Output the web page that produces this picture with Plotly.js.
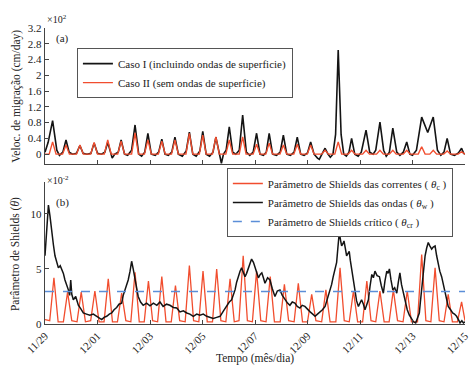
<!DOCTYPE html>
<html>
<head>
<meta charset="utf-8">
<script src="https://cdn.plot.ly/plotly-3.0.1.min.js"></script>
<style>html,body{margin:0;padding:0;background:#fff;}#chart{width:471px;height:368px;}</style>
</head>
<body>
<div id="chart"></div>
<script>
// ---- Data (time in days since 11/29) ----
var tickDays = [0, 2, 4, 6, 8, 10, 12, 14, 16];
var tickDates = ['11/29', '12/01', '12/03', '12/05', '12/07', '12/09', '12/11', '12/13', '12/15'];
var velTicks = [0, 0.4, 0.8, 1.2, 1.6, 2, 2.4, 2.8, 3.2];
var velTickText = ['0', '0.4', '0.8', '1.2', '1.6', '2', '2.4', '2.8', '3.2'];

// Panel (a): migration velocity (x10^2 cm/day)
var caseITime = [0,0.12,0.29,0.45,0.55,0.68,0.80,0.92,1.05,1.2,1.33,1.45,1.6,1.75,1.87,2.0,2.15,2.28,2.39,2.5,2.56,2.66,2.79,2.90,3.03,3.15,3.3,3.43,3.57,3.68,3.8,3.92,4.05,4.2,4.33,4.45,4.57,4.7,4.83,4.95,5.08,5.23,5.38,5.50,5.63,5.76,5.9,6.01,6.14,6.27,6.4,6.51,6.63,6.72,6.8,6.9,7.02,7.15,7.27,7.4,7.53,7.67,7.8,7.93,8.06,8.19,8.32,8.43,8.54,8.67,8.82,8.96,9.08,9.21,9.35,9.49,9.61,9.74,9.87,10.0,10.12,10.25,10.38,10.45,10.55,10.67,10.78,10.87,10.97,11.07,11.17,11.28,11.38,11.48,11.58,11.68,11.8,11.93,12.05,12.23,12.37,12.5,12.6,12.76,12.9,13.0,13.12,13.25,13.4,13.52,13.65,13.78,13.9,14.0,14.15,14.35,14.58,14.79,14.95,15.08,15.2,15.32,15.45,15.6,15.75,15.87,15.95,16.0];
var caseIVal = [0.05,0.3,0.85,0.1,-0.03,0.05,0.36,0.05,0.0,0.02,0.22,0.02,0.0,0.02,0.28,0.02,0.0,0.05,0.30,0.0,-0.1,0.0,0.05,0.36,0.0,-0.03,0.1,0.74,0.0,-0.05,0.05,0.53,0.0,-0.03,0.05,0.38,0.0,-0.03,0.05,0.43,0.0,-0.05,0.08,0.56,0.0,-0.05,0.08,0.58,0.0,-0.05,0.05,0.43,0.0,-0.23,0.0,0.1,0.69,0.05,0.0,0.1,0.99,0.05,-0.03,0.05,0.53,0.0,-0.03,0.05,0.53,0.0,-0.03,0.05,0.48,0.0,-0.03,0.05,0.43,0.0,-0.03,0.03,0.31,0.0,-0.1,-0.13,0.0,0.15,0.0,-0.08,0.0,0.5,2.64,0.5,0.0,-0.05,0.05,0.40,0.0,-0.05,0.05,0.61,0.05,0.0,0.1,0.81,0.1,-0.05,0.05,0.66,0.05,-0.03,0.05,0.31,0.0,-0.03,0.1,0.94,0.55,0.94,0.1,-0.03,0.05,0.40,0.0,-0.03,0.03,0.15,0.02,0.0];

var caseIITime = [0,0.16,0.29,0.42,0.67,0.80,0.93,1.20,1.33,1.46,1.74,1.87,2.00,2.26,2.39,2.52,2.77,2.90,3.03,3.30,3.43,3.56,3.79,3.92,4.05,4.32,4.45,4.58,4.82,4.95,5.08,5.37,5.50,5.63,5.88,6.01,6.14,6.38,6.51,6.64,6.89,7.02,7.15,7.40,7.53,7.66,7.93,8.06,8.19,8.41,8.54,8.67,8.95,9.08,9.21,9.48,9.61,9.74,9.99,10.12,10.25,10.54,10.67,10.80,11.04,11.17,11.30,11.55,11.68,11.81,12.10,12.23,12.36,12.63,12.76,12.89,13.12,13.25,13.38,13.65,13.78,13.91,14.22,14.35,14.48,14.66,14.79,14.92,15.19,15.32,15.45,15.74,15.87,16.0];
var caseIIVal = [0,0,0.31,0,0,0.23,0,0,0.23,0,0,0.30,0,0,0.36,0,0,0.33,0,0,0.54,0,0,0.36,0,0,0.33,0,0,0.36,0,0,0.53,0,0,0.48,0,0,0.44,0,0,0.36,0,0,0.44,0,0,0.25,0,0,0.28,0,0,0.23,0,0,0.25,0,0,0.23,0,0,0.10,0,0,0.31,0,0,0.10,0,0,0.10,0,0,0.10,0,0,0.10,0,0,0.10,0,0,0.19,0,0,0.10,0,0,0.08,0,0,0.06,0];

// Panel (b): Shields parameters (x10^-2)
var curTime = [0,0.18,0.34,0.50,0.70,0.86,1.02,1.22,1.38,1.54,1.74,1.90,2.06,2.25,2.41,2.57,2.76,2.92,3.08,3.27,3.43,3.59,3.78,3.94,4.10,4.29,4.45,4.61,4.81,4.97,5.13,5.34,5.50,5.66,5.86,6.02,6.18,6.38,6.54,6.70,6.89,7.05,7.21,7.39,7.55,7.71,7.90,8.06,8.22,8.42,8.58,8.74,8.96,9.12,9.28,9.49,9.65,9.81,10.00,10.16,10.32,10.54,10.70,10.86,11.08,11.24,11.40,11.59,11.75,11.91,12.10,12.26,12.42,12.60,12.76,12.92,13.11,13.27,13.43,13.64,13.80,13.96,14.19,14.35,14.51,14.70,14.86,15.02,15.20,15.36,15.52,15.71,15.87,16.0];
var curVal = [0.4,0.3,4.2,0.2,0.2,2.9,0.3,0.2,2.9,0.2,0.3,3.0,0.2,0.2,4.1,0.2,0.2,2.8,0.3,0.2,4.7,0.2,0.2,3.9,0.3,0.2,4.3,0.2,0.2,3.5,0.3,0.2,5.3,0.3,0.2,4.8,0.2,0.2,5.0,0.3,0.2,4.1,0.2,0.3,6.2,0.3,0.2,4.8,0.3,0.2,4.3,0.2,0.2,3.6,0.3,0.2,3.7,0.2,0.2,2.7,0.3,0.2,3.1,0.2,0.2,5.1,0.3,0.2,3.0,0.2,0.2,3.9,0.3,0.2,3.0,0.2,0.2,3.1,0.3,0.2,3.0,0.2,0.2,6.3,0.3,0.2,5.1,0.3,0.2,2.7,0.2,0.2,2.0,0.3];

var waveTime = [0.0,0.06,0.13,0.19,0.26,0.32,0.38,0.45,0.51,0.58,0.64,0.70,0.76,0.83,0.89,0.94,0.98,1.02,1.08,1.17,1.27,1.36,1.46,1.58,1.71,1.84,1.97,2.06,2.16,2.25,2.35,2.45,2.54,2.63,2.73,2.82,2.92,2.98,3.05,3.11,3.17,3.24,3.30,3.36,3.43,3.49,3.55,3.64,3.74,3.87,4.0,4.13,4.26,4.38,4.5,4.63,4.76,4.89,5.02,5.14,5.27,5.40,5.52,5.65,5.78,5.90,6.03,6.16,6.28,6.41,6.54,6.67,6.80,6.92,7.02,7.11,7.18,7.24,7.30,7.36,7.43,7.49,7.55,7.62,7.68,7.74,7.81,7.87,7.94,8.0,8.07,8.13,8.20,8.26,8.32,8.38,8.48,8.57,8.66,8.76,8.85,8.95,9.04,9.14,9.24,9.33,9.42,9.52,9.61,9.71,9.80,9.90,10.0,10.10,10.20,10.29,10.38,10.48,10.57,10.67,10.76,10.86,10.92,10.98,11.05,11.11,11.16,11.21,11.26,11.30,11.35,11.39,11.44,11.49,11.54,11.59,11.63,11.68,11.74,11.81,11.87,11.94,12.0,12.06,12.13,12.19,12.25,12.32,12.38,12.45,12.51,12.57,12.65,12.74,12.81,12.89,12.95,13.02,13.07,13.12,13.18,13.25,13.32,13.40,13.46,13.52,13.58,13.65,13.72,13.80,13.88,13.97,14.04,14.12,14.19,14.26,14.30,14.35,14.41,14.48,14.54,14.60,14.66,14.73,14.79,14.86,14.92,14.98,15.04,15.11,15.17,15.24,15.30,15.36,15.45,15.53,15.60,15.68,15.75,15.81,15.88,15.94,16.0];
var waveVal = [6.2,8.5,10.8,9.8,8.0,7.2,6.2,5.5,5.1,5.3,5.0,4.6,4.0,3.6,3.1,2.6,4.0,2.7,2.2,2.5,1.7,1.4,1.0,0.9,0.8,0.9,0.7,0.6,0.4,0.6,0.7,0.9,1.0,1.3,1.5,1.8,1.9,2.6,3.1,3.6,4.0,4.8,5.7,5.0,4.0,3.4,2.5,2.0,1.7,1.9,1.65,1.9,1.7,2.0,1.6,1.8,1.7,1.5,1.45,1.1,1.2,1.0,0.9,0.7,0.9,0.8,0.9,0.7,0.6,0.5,0.6,0.7,1.2,1.7,2.0,2.2,2.6,3.1,3.8,4.3,4.8,5.1,4.7,4.3,4.6,5.0,5.5,5.9,5.6,5.1,4.6,4.2,4.5,4.65,4.2,3.7,4.2,4.0,3.2,2.5,3.0,3.1,2.6,2.2,1.9,1.7,2.0,1.9,1.6,1.45,1.7,1.6,1.3,1.1,0.9,0.7,0.9,1.1,1.3,1.6,2.3,3.1,3.6,4.3,4.9,5.6,7.0,8.3,7.6,7.1,7.3,7.55,6.9,6.2,6.4,6.6,5.8,5.0,3.9,2.8,2.1,1.6,1.9,2.2,1.8,1.3,1.7,2.2,3.4,4.5,4.2,4.8,4.4,4.3,3.5,2.8,3.9,4.8,4.6,5.0,4.0,3.1,3.3,2.8,3.8,4.65,3.6,2.8,2.0,1.3,0.8,0.4,0.2,0.1,0.5,1.0,2.0,3.1,4.8,6.2,6.9,7.4,7.1,6.8,7.0,7.1,6.2,5.3,4.8,4.3,3.6,2.8,2.2,1.6,1.3,1.0,0.9,0.7,0.4,0.1,0.3,0.1,0.2];

var critTime = [0, 16];
var critVal = [2.95, 2.95];

// ---- Styling ----
var RED = '#f14d2e', BLACK = '#141414', BLUE = '#5b8ed8', AX = '#444';
var FONT = 'Liberation Serif, Times New Roman, serif';

var traces = [
  {x: caseITime, y: caseIVal, xaxis: 'x', yaxis: 'y', mode: 'lines', name: 'Caso I (incluindo ondas de superficie)',
   line: {color: BLACK, width: 1.6}, legend: 'legend'},
  {x: caseIITime, y: caseIIVal, xaxis: 'x', yaxis: 'y', mode: 'lines', name: 'Caso II (sem ondas de superficie)',
   line: {color: RED, width: 1.4}, legend: 'legend'},
  {x: curTime, y: curVal, xaxis: 'x2', yaxis: 'y2', mode: 'lines', name: 'Parâmetro de Shields das correntes ( <i>θ</i><sub>c</sub> )',
   line: {color: RED, width: 1.3}, legend: 'legend2'},
  {x: waveTime, y: waveVal, xaxis: 'x2', yaxis: 'y2', mode: 'lines', name: 'Parâmetro de Shields das ondas ( <i>θ</i><sub>w</sub> )',
   line: {color: BLACK, width: 1.5}, legend: 'legend2'},
  {x: critTime, y: critVal, xaxis: 'x2', yaxis: 'y2', mode: 'lines', name: 'Parâmetro de Shields crítico ( <i>θ</i><sub>cr</sub> )',
   line: {color: BLUE, width: 1.5, dash: 'dash'}, legend: 'legend2'}
];

var axBase = {showline: true, linecolor: AX, linewidth: 1.2, ticks: 'inside', ticklen: 4, tickcolor: AX,
  showgrid: false, zeroline: false, tickfont: {family: FONT, size: 11, color: '#222'}};

var layout = {
  width: 471, height: 368,
  margin: {l: 45, r: 6, t: 28, b: 44},
  paper_bgcolor: '#fff', plot_bgcolor: '#fff',
  font: {family: FONT, size: 11, color: '#222'},
  showlegend: true,
  xaxis: Object.assign({}, axBase, {domain: [0, 1], anchor: 'y', range: [0, 16], tickvals: tickDays, showticklabels: false}),
  yaxis: Object.assign({}, axBase, {domain: [0.5405, 1], anchor: 'x', range: [-0.25, 3.2], tickvals: velTicks, ticktext: velTickText}),
  xaxis2: Object.assign({}, axBase, {domain: [0, 1], anchor: 'y2', range: [0, 16], tickvals: tickDays, ticktext: tickDates, tickangle: -45}),
  yaxis2: Object.assign({}, axBase, {domain: [0, 0.4797], anchor: 'x2', range: [0, 12.9], tickvals: [0, 5, 10], ticktext: ['0', '5', '10']}),
  legend: {x: 0.076, y: 0.932, xanchor: 'left', yanchor: 'top', bgcolor: '#fff', bordercolor: '#555', borderwidth: 1,
    font: {family: FONT, size: 11, color: '#222'}, tracegroupgap: 0, itemwidth: 30},
  legend2: {x: 0.433, y: 0.527, xanchor: 'left', yanchor: 'top', bgcolor: '#fff', bordercolor: '#555', borderwidth: 1,
    font: {family: FONT, size: 11, color: '#222'}, tracegroupgap: 0, itemwidth: 30},
  annotations: [
    {xref: 'paper', yref: 'paper', x: 0.0, y: 1.03, xanchor: 'left', yanchor: 'middle', showarrow: false, text: '×10<sup>2</sup>', font: {size: 10}},
    {xref: 'paper', yref: 'paper', x: 0.022, y: 0.966, xanchor: 'left', yanchor: 'middle', showarrow: false, text: '(a)', font: {size: 11}},
    {xref: 'paper', yref: 'paper', x: 0.0, y: 0.487, xanchor: 'left', yanchor: 'middle', showarrow: false, text: '×10<sup>-2</sup>', font: {size: 10}},
    {xref: 'paper', yref: 'paper', x: 0.022, y: 0.412, xanchor: 'left', yanchor: 'middle', showarrow: false, text: '(b)', font: {size: 11}},
    {xref: 'paper', yref: 'paper', x: -0.07, y: 0.77, xanchor: 'center', yanchor: 'middle', showarrow: false, textangle: -90,
     text: 'Veloc. de migração (cm/day)', font: {size: 11.5}},
    {xref: 'paper', yref: 'paper', x: -0.07, y: 0.235, xanchor: 'center', yanchor: 'middle', showarrow: false, textangle: -90,
     text: 'Parâmetro de Shields (<i>θ</i>)', font: {size: 11.5}},
    {xref: 'paper', yref: 'paper', x: 0.5, y: -0.118, xanchor: 'center', yanchor: 'middle', showarrow: false,
     text: 'Tempo (mês/dia)', font: {size: 11.5}}
  ]
};

Plotly.newPlot('chart', traces, layout, {displayModeBar: false, staticPlot: true});
</script>
</body>
</html>
